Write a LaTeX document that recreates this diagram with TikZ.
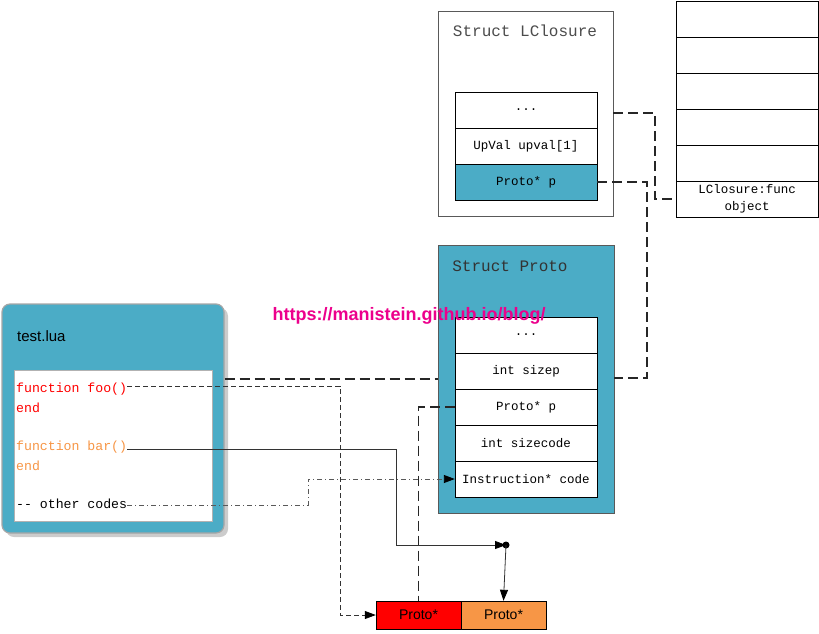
\documentclass[tikz,border=0pt]{standalone}
\usepackage{fontspec}
\setmainfont{Liberation Serif}
\newfontfamily\monof{Liberation Mono}
\newfontfamily\sansf{Liberation Sans}
\usetikzlibrary{arrows.meta}
\definecolor{tealc}{HTML}{4BACC6}
\definecolor{orangec}{HTML}{F79646}
\definecolor{redc}{HTML}{FF0000}
\definecolor{framec}{HTML}{595959}
\tikzset{
  rowbox/.style={draw=black, fill=white, minimum width=142pt, minimum height=36pt, inner sep=0pt, font=\monof\fontsize{12.5}{13}\selectfont},
  codeline/.style={anchor=west, inner sep=0pt, font=\monof\fontsize{13.2}{14}\selectfont},
  bigdash/.style={draw=black!85, line width=1.3pt, dash pattern=on 10pt off 5pt},
  thindash/.style={draw=black!80, line width=0.8pt, dash pattern=on 5pt off 3pt},
  dashdot/.style={draw=black!65, line width=0.9pt, dash pattern=on 5pt off 3pt on 1pt off 3pt},
  tip/.style={-{Triangle[length=11pt,width=8pt,color=black]}},
  cell/.style={draw=black, minimum width=85pt, minimum height=28pt, inner sep=0pt, font=\sansf\fontsize{14}{15}\selectfont}
}
\begin{document}
\begin{tikzpicture}[x=1pt,y=-1pt]
\useasboundingbox (0,0) rectangle (819,633);
% Struct LClosure
\node[draw=framec, fill=white, minimum width=175pt, minimum height=205pt, inner sep=0pt] (lcbox) at (525.5,113.5) {};
\node[font=\monof\fontsize{16}{18}\selectfont, text=black!70] (lctitle) at (525,31) {Struct LClosure};
\node[rowbox] (lcdots) at (526,110) {...};
\node[rowbox] (lcup) at (526,146) {UpVal upval[1]};
\node[rowbox, fill=tealc] (lcp) at (526,182) {Proto* p};
% stack
\node[rowbox] (s1) at (747,19) {};
\node[rowbox] (s2) at (747,55) {};
\node[rowbox] (s3) at (747,91) {};
\node[rowbox] (s4) at (747,127) {};
\node[rowbox] (s5) at (747,163) {};
\node[rowbox, align=center, font=\monof\fontsize{12.5}{17}\selectfont] (fobj) at (747,199) {LClosure:func\\object};
% Struct Proto
\node[draw=framec, fill=tealc, minimum width=176pt, minimum height=268pt, inner sep=0pt] (pbox) at (526,379) {};
\node[font=\monof\fontsize{16}{18}\selectfont, text=black!80] (ptitle) at (510,266) {Struct Proto};
\node[rowbox] (pdots) at (526,335) {...};
\node[rowbox] (psizep) at (526,371) {int sizep};
\node[rowbox] (pp) at (526,407) {Proto* p};
\node[rowbox] (psc) at (526,443) {int sizecode};
\node[rowbox] (pcode) at (526,479) {Instruction* code};
% test.lua
\fill[black!20, rounded corners=8pt] (6,308) rectangle (228,537);
\node[draw=black!35, line width=1.2pt, fill=tealc, rounded corners=8pt, minimum width=222pt, minimum height=229pt, inner sep=0pt] (tbox) at (113,418.5) {};
\node[anchor=west, inner sep=0pt, font=\sansf\fontsize{15}{16}\selectfont] (ttitle) at (17,336) {test.lua};
\node[draw=black!30, fill=white, minimum width=198pt, minimum height=151pt, inner sep=0pt] (code) at (113,445.5) {};
\node[codeline, text=redc] (foo) at (16,389) {function foo()};
\node[codeline, text=redc] (fooend) at (16,408) {end};
\node[codeline, text=orangec] (bar) at (16,447) {function bar()};
\node[codeline, text=orangec] (barend) at (16,466) {end};
\node[codeline] (other) at (16,504) {-- other codes};
% bottom cells
\node[cell, fill=redc] (red) at (418.5,615) {Proto*};
\node[cell, fill=orangec] (org) at (503.5,615) {Proto*};
\fill (506,545) circle (3.5pt) coordinate (dot);
% connectors
\coordinate (c1) at (655,113);
\draw[bigdash] (lcbox.east |- c1) -- (c1) |- (fobj.west);
\coordinate (c2) at (647,378);
\draw[bigdash] (lcp.east) -| (c2) -- (pbox.east |- c2);
\coordinate (c3) at (0,379);
\draw[bigdash] (tbox.east |- c3) -- (pbox.west |- c3);
\draw[bigdash] (pp.west) -| (red.north);
\coordinate (c4) at (340,386);
\draw[thindash, tip] (foo.east |- c4) -- (c4) |- (red.west);
\coordinate (c5) at (396,449);
\draw[black!80, line width=0.8pt, tip] (bar.east |- c5) -- (c5) |- (dot);
\draw[black!80, line width=0.8pt, tip] (dot) -- (org.north);
\coordinate (c6) at (308,505);
\draw[dashdot, tip] (other.east |- c6) -- (c6) |- (pcode.west);
% watermark
\node[font=\sansf\bfseries\fontsize{18}{19}\selectfont, text=magenta] (wm) at (409,316) {https://manistein.github.io/blog/};
\end{tikzpicture}
\end{document}
